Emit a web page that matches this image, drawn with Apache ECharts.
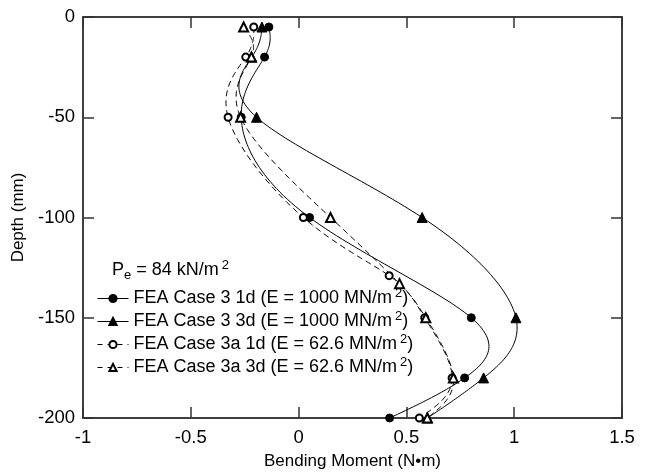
<!DOCTYPE html>
<html><head><meta charset="utf-8">
<script src="https://cdn.jsdelivr.net/npm/echarts@6/dist/echarts.min.js"></script>
<style>html,body{margin:0;padding:0;background:#fff}#c{width:647px;height:473px}</style>
</head><body><div id="c"></div>
<script>
const xTicks = [-1, -0.5, 0, 0.5, 1, 1.5];
const yTicks = [0, -50, -100, -150, -200];
const seriesNames = [
  'FEA Case 3 1d (E = 1000 MN/m2)',
  'FEA Case 3 3d (E = 1000 MN/m2)',
  'FEA Case 3a 1d (E = 62.6 MN/m2)',
  'FEA Case 3a 3d (E = 62.6 MN/m2)'
];
const depth3_1d = [-5, -20, -50, -100, -150, -180, -200];
const moment3_1d = [-0.138, -0.158, -0.266, 0.051, 0.801, 0.770, 0.422];
const depth3_3d = [-5, -20, -50, -100, -150, -180, -200];
const moment3_3d = [-0.170, -0.217, -0.195, 0.573, 1.008, 0.858, 0.598];
const depth3a_1d = [-5, -20, -50, -100, -129, -150, -180, -200];
const moment3a_1d = [-0.208, -0.245, -0.327, 0.022, 0.420, 0.585, 0.712, 0.560];
const depth3a_3d = [-5, -20, -50, -100, -133, -150, -180, -200];
const moment3a_3d = [-0.255, -0.219, -0.269, 0.148, 0.468, 0.590, 0.718, 0.597];

const FONT = '"Liberation Sans", Arial, sans-serif';
const pairs = (xs, ys) => xs.map((x, i) => [x, ys[i]]);
const DASH = [6, 4];

// natural cubic spline second derivatives, uniform parameter
function splineM(v) {
  const n = v.length, M = new Array(n).fill(0);
  if (n < 3) return M;
  const m = n - 2, c = new Array(m), d = new Array(m);
  for (let k = 0; k < m; k++) {
    const i = k + 1;
    const rhs = 6 * (v[i + 1] - 2 * v[i] + v[i - 1]);
    if (k === 0) { c[k] = 1 / 4; d[k] = rhs / 4; }
    else { const den = 4 - c[k - 1]; c[k] = 1 / den; d[k] = (rhs - d[k - 1]) / den; }
  }
  M[m] = d[m - 1];
  for (let k = m - 2; k >= 0; k--) M[k + 1] = d[k] - c[k] * M[k + 2];
  return M;
}
function splinePoints(pts) {
  const xs = pts.map(p => p[0]), ys = pts.map(p => p[1]);
  const Mx = splineM(xs), My = splineM(ys);
  const out = [];
  const STEPS = 30;
  for (let i = 0; i < pts.length - 1; i++) {
    for (let s = 0; s <= STEPS; s++) {
      if (i > 0 && s === 0) continue;
      const t = s / STEPS, u = 1 - t;
      const a = (u * u * u - u) / 6, b = (t * t * t - t) / 6;
      out.push([xs[i] * u + xs[i + 1] * t + a * Mx[i] + b * Mx[i + 1],
                ys[i] * u + ys[i + 1] * t + a * My[i] + b * My[i + 1]]);
    }
  }
  return out;
}

function curveSeries(id, xs, ys, dashed) {
  return {
    id: id, type: 'custom', data: pairs(xs, ys), z: 2, silent: true, animation: false,
    encode: {x: 0, y: 1},
    renderItem: function (params, api) {
      if (params.dataIndex !== 0) return null;
      const px = xs.map((x, i) => api.coord([x, ys[i]]));
      return {
        type: 'polyline', shape: {points: splinePoints(px)},
        style: {stroke: '#000', lineWidth: 1, fill: null, lineDash: dashed ? DASH : null}
      };
    }
  };
}
function markerSeries(name, xs, ys, symbol, size) {
  return {
    name: name, type: 'line', data: pairs(xs, ys), z: 3,
    symbol: symbol, symbolSize: size, showAllSymbol: true,
    lineStyle: {color: '#000', width: 1, opacity: 0},
    itemStyle: {color: '#000', borderColor: '#000', borderWidth: 1},
    emphasis: {disabled: true}, animation: false
  };
}

const axisCommon = {
  axisLine: {show: true, onZero: false, lineStyle: {color: '#000', width: 1.5}},
  axisTick: {show: true, inside: true, length: 11, lineStyle: {color: '#333', width: 1.5}},
  splitLine: {show: false}
};

const chart = echarts.init(document.getElementById('c'), null, {renderer: 'canvas'});
chart.setOption({
  backgroundColor: '#fff',
  animation: false,
  grid: {left: 83, right: 25, top: 17, bottom: 55, containLabel: false, outerBoundsMode: 'none'},
  xAxis: [
    Object.assign({type: 'value', min: -1, max: 1.5, interval: 0.5, position: 'bottom',
      name: 'Bending Moment (N•m)', nameLocation: 'middle', nameGap: 35,
      nameTextStyle: {fontFamily: FONT, fontSize: 17, color: '#000'},
      axisLabel: {fontFamily: FONT, fontSize: 18.5, color: '#000', margin: 10,
        formatter: v => String(xTicks.find(t => Math.abs(t - v) < 1e-9))}}, axisCommon),
    Object.assign({type: 'value', min: -1, max: 1.5, interval: 0.5, position: 'top',
      axisLabel: {show: false}}, axisCommon)
  ],
  yAxis: [
    Object.assign({type: 'value', min: -200, max: 0, interval: 50, position: 'left',
      name: 'Depth (mm)', nameLocation: 'middle', nameGap: 51,
      nameTextStyle: {fontFamily: FONT, fontSize: 17, color: '#000'},
      axisLabel: {fontFamily: FONT, fontSize: 18.5, color: '#000', margin: 8,
        formatter: v => String(yTicks.find(t => Math.abs(t - v) < 1e-9))}}, axisCommon),
    Object.assign({type: 'value', min: -200, max: 0, interval: 50, position: 'right',
      axisLabel: {show: false}}, axisCommon)
  ],
  legend: {
    orient: 'vertical', left: 92, top: 282, itemWidth: 31, itemHeight: 9, itemGap: 0,
    selectedMode: false,
    formatter: n => '{n|' + n.replace(/m2\)$/, 'm}{sup|2}{n|)}'),
    textStyle: {fontFamily: FONT, fontSize: 18, color: '#000', lineHeight: 22,
      rich: {n: {fontFamily: FONT, fontSize: 18, color: '#000', lineHeight: 22},
             sup: {fontFamily: FONT, fontSize: 13, color: '#000', lineHeight: 22, padding: [0, 0, 10, 3]}}},
    data: seriesNames.map((n, i) => ({
      name: n,
      lineStyle: {color: '#000', width: 1, opacity: 1, type: i >= 2 ? [5, 5] : 'solid'}
    }))
  },
  graphic: [{
    type: 'text', left: 112, top: 259,
    style: {
      text: '{n|P}{sub|e}{n| = 84 kN/m}{sup|2}',
      rich: {n: {fontFamily: FONT, fontSize: 18, fill: '#000', lineHeight: 22},
             sub: {fontFamily: FONT, fontSize: 13, fill: '#000', lineHeight: 22, padding: [9, 0, 0, 0]},
             sup: {fontFamily: FONT, fontSize: 13, fill: '#000', lineHeight: 22, padding: [0, 0, 10, 3]}}
    }
  }],
  series: [
    curveSeries('c1', moment3_1d, depth3_1d, false),
    curveSeries('c2', moment3_3d, depth3_3d, false),
    curveSeries('c3', moment3a_1d, depth3a_1d, true),
    curveSeries('c4', moment3a_3d, depth3a_3d, true),
    markerSeries(seriesNames[0], moment3_1d, depth3_1d, 'circle', 8),
    markerSeries(seriesNames[1], moment3_3d, depth3_3d, 'triangle', 10),
    markerSeries(seriesNames[2], moment3a_1d, depth3a_1d, 'emptyCircle', 7),
    markerSeries(seriesNames[3], moment3a_3d, depth3a_3d, 'emptyTriangle', 9)
  ]
});
</script></body></html>
